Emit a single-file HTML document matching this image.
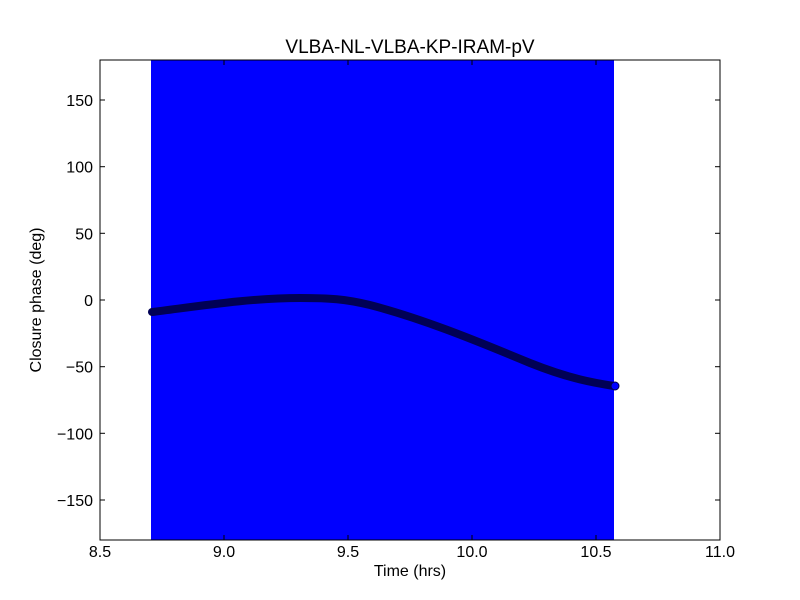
<!DOCTYPE html>
<html><head><style>body{margin:0;background:#fff}svg{display:block}</style></head><body>
<svg width="800" height="600" xmlns="http://www.w3.org/2000/svg" font-family="Liberation Sans, DejaVu Sans, sans-serif">
<rect x="0" y="0" width="800" height="600" fill="#fff"/>
<rect x="151" y="60" width="463" height="480" fill="#0000ff"/>
<path d="M152,312 C200,306 250,298 300,298 C330,298 345,299 370,305 C420,318 470,338 530,363 C570,379 595,383 614,386" fill="none" stroke="#000055" stroke-width="8" stroke-linecap="round"/>
<circle cx="615" cy="386" r="4" fill="#0000ff" stroke="#00004a" stroke-width="1"/>
<rect x="100" y="60" width="620" height="480" fill="none" stroke="#000" stroke-width="1"/>
<g stroke="#000" stroke-width="1">
<line x1="100" y1="540" x2="100" y2="535"/><line x1="100" y1="60" x2="100" y2="65"/>
<line x1="224" y1="540" x2="224" y2="535"/><line x1="224" y1="60" x2="224" y2="65"/>
<line x1="348" y1="540" x2="348" y2="535"/><line x1="348" y1="60" x2="348" y2="65"/>
<line x1="472" y1="540" x2="472" y2="535"/><line x1="472" y1="60" x2="472" y2="65"/>
<line x1="596" y1="540" x2="596" y2="535"/><line x1="596" y1="60" x2="596" y2="65"/>
<line x1="720" y1="540" x2="720" y2="535"/><line x1="720" y1="60" x2="720" y2="65"/>
<line x1="100" y1="100" x2="105" y2="100"/><line x1="720" y1="100" x2="715" y2="100"/>
<line x1="100" y1="166.7" x2="105" y2="166.7"/><line x1="720" y1="166.7" x2="715" y2="166.7"/>
<line x1="100" y1="233.3" x2="105" y2="233.3"/><line x1="720" y1="233.3" x2="715" y2="233.3"/>
<line x1="100" y1="300" x2="105" y2="300"/><line x1="720" y1="300" x2="715" y2="300"/>
<line x1="100" y1="366.7" x2="105" y2="366.7"/><line x1="720" y1="366.7" x2="715" y2="366.7"/>
<line x1="100" y1="433.3" x2="105" y2="433.3"/><line x1="720" y1="433.3" x2="715" y2="433.3"/>
<line x1="100" y1="500" x2="105" y2="500"/><line x1="720" y1="500" x2="715" y2="500"/>
</g>
<g font-size="16" text-anchor="middle" fill="#000">
<text x="100" y="557">8.5</text><text x="224" y="557">9.0</text><text x="348" y="557">9.5</text>
<text x="472" y="557">10.0</text><text x="596" y="557">10.5</text><text x="720" y="557">11.0</text>
</g>
<g font-size="16" text-anchor="end" fill="#000">
<text x="93" y="106">150</text><text x="93" y="172.7">100</text><text x="93" y="239.3">50</text>
<text x="93" y="306">0</text><text x="93" y="372.7">−50</text><text x="93" y="439.3">−100</text><text x="93" y="506">−150</text>
</g>
<text x="410" y="576" font-size="16" text-anchor="middle">Time (hrs)</text>
<text x="41" y="300" font-size="16" text-anchor="middle" transform="rotate(-90 41 300)">Closure phase (deg)</text>
<text x="410" y="53" font-size="19" text-anchor="middle">VLBA-NL-VLBA-KP-IRAM-pV</text>
</svg>
</body></html>
